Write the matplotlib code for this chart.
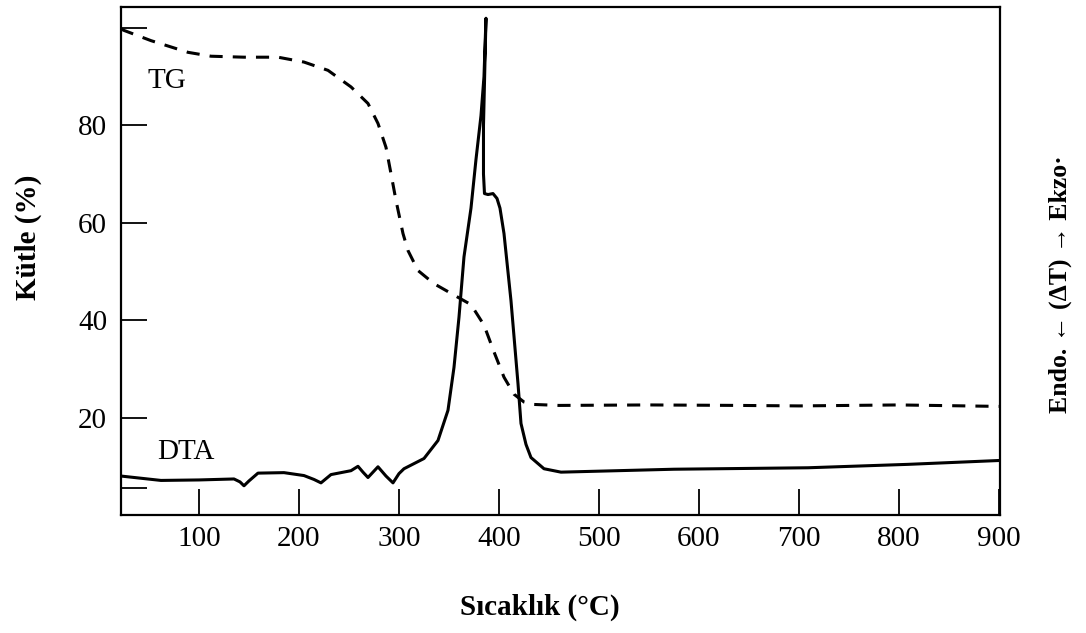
import matplotlib
matplotlib.use('Agg')
import matplotlib.pyplot as plt

# TG (mass %)
tg_temp = [22, 25, 52, 89, 112, 145, 179, 205, 229, 252, 269, 279, 287, 292, 297,
           304, 309, 319, 335, 359, 372, 385, 395, 405, 415, 425, 435, 460, 550,
           640, 700, 800, 900]
tg_mass = [99.8, 99.5, 97.4, 95.0, 94.2, 94.0, 94.0, 93.0, 91.3, 87.9, 84.5, 80.4,
           75.5, 70.1, 64.6, 57.8, 54.3, 50.2, 47.5, 44.7, 43.2, 39.0, 33.5, 28.3,
           24.8, 23.2, 22.7, 22.5, 22.6, 22.5, 22.4, 22.6, 22.3]

# DTA curve (same vertical scale)
dta_temp = [22, 62, 100, 135, 141, 145, 150, 159, 185, 205, 215, 222, 232, 252, 259,
            264, 269, 279, 287, 294, 300, 305, 325, 339, 349, 355, 360, 365, 372,
            377, 382, 385, 387, 384.5, 384.5, 385.5, 389, 394, 398, 401, 405, 412,
            419, 422, 427, 432, 445, 462, 575, 709, 809, 901]
dta_val = [8.0, 7.1, 7.2, 7.4, 6.8, 6.0, 7.0, 8.6, 8.7, 8.1, 7.3, 6.6, 8.3, 9.1, 10.0,
           8.8, 7.7, 9.9, 8.0, 6.6, 8.5, 9.5, 11.6, 15.3, 21.5, 30.3, 40.6, 53.0, 63.0,
           73.0, 82.0, 90.0, 102.0, 80.0, 70.0, 66.0, 65.8, 66.0, 65.0, 63.0, 57.8, 44.0,
           27.0, 18.8, 14.5, 11.8, 9.5, 8.8, 9.4, 9.7, 10.4, 11.2]

xticks = [100, 200, 300, 400, 500, 600, 700, 800, 900]
yticks = [20, 40, 60, 80]

plt.rcParams['font.family'] = ['Liberation Serif', 'DejaVu Serif']

fig = plt.figure(figsize=(10.86, 6.33), dpi=100)
ax = fig.add_axes([0.1114, 0.1864, 0.8094, 0.8025])

ax.plot(tg_temp, tg_mass, color='black', lw=2.2, dashes=(4.3, 3.3))
ax.plot(dta_temp, dta_val, color='black', lw=2.2, solid_joinstyle='round')

ax.set_xlim(22, 901)
ax.set_ylim(0, 104.3)
ax.set_xticks(xticks)
ax.set_yticks(yticks)
ax.set_yticks([5.6, 100], minor=True)
ax.tick_params(axis='both', which='both', direction='in', length=19, width=1.3,
               labelsize=21, top=False, right=False)
ax.tick_params(axis='x', pad=8)
ax.tick_params(axis='y', pad=10)
for s in ax.spines.values():
    s.set_linewidth(1.6)

ax.text(49, 87.6, 'TG', fontsize=21)
ax.text(58, 11.6, 'DTA', fontsize=21)

fig.text(540 / 1086, 1 - 607 / 633, 'Sıcaklık (°C)', fontsize=21, fontweight='bold',
         ha='center', va='center')
fig.text(28 / 1086, 1 - 237 / 633, 'Kütle (%)', fontsize=21, fontweight='bold',
         rotation=90, ha='center', va='center')
fig.text(1060 / 1086, 1 - 284 / 633, 'Endo. ← (ΔT) → Ekzo·', fontsize=18.5,
         fontweight='bold', rotation=90, ha='center', va='center')

fig.savefig('out.png', dpi=100)
